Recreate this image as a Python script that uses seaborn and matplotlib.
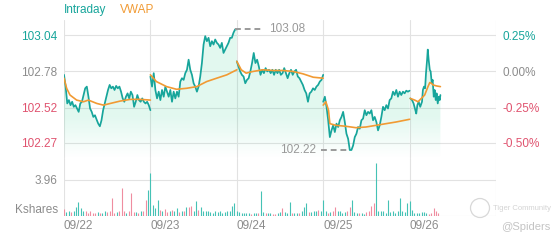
import numpy as np
import pandas as pd
import matplotlib
matplotlib.use("Agg")
import matplotlib.pyplot as plt
import seaborn as sns
from matplotlib.colors import LinearSegmentedColormap
from matplotlib.patches import Ellipse

# ---------------- data ----------------
dates = ["09/22", "09/23", "09/24", "09/25", "09/26"]
prev_close = 102.78
price_ticks = [103.04, 102.78, 102.52, 102.27]
price_tick_labels = ["103.04", "102.78", "102.52", "102.27"]
pct_labels = ["0.25%", "0.00%", "-0.25%", "-0.50%"]
vol_tick = 3.96
vol_tick_label = "3.96"
vol_unit = "Kshares"
session_minutes = 390

day1_price = [102.756, 102.672, 102.552, 102.576, 102.54, 102.564, 102.528, 102.54, 102.516, 102.492,
              102.552, 102.564, 102.612, 102.66, 102.672, 102.60, 102.516, 102.492, 102.456, 102.468,
              102.437, 102.408, 102.389, 102.432, 102.504, 102.552, 102.60, 102.648, 102.684, 102.66,
              102.672, 102.648, 102.677, 102.66, 102.672, 102.636, 102.588, 102.564, 102.60, 102.624,
              102.588, 102.636, 102.612, 102.528, 102.564, 102.612, 102.576, 102.564, 102.588, 102.564,
              102.552, 102.564, 102.54, 102.504]
day2_price = [102.744, 102.672, 102.768, 102.648, 102.588, 102.636, 102.576, 102.648, 102.60, 102.672,
              102.636, 102.60, 102.648, 102.564, 102.636, 102.588, 102.636, 102.60, 102.708, 102.732,
              102.72, 102.768, 102.792, 102.864, 102.792, 102.756, 102.696, 102.672, 102.636, 102.672,
              102.744, 102.84, 102.972, 103.032, 102.996, 103.02, 102.96, 102.996, 102.972, 103.008,
              102.984, 102.972, 102.948, 102.984, 102.912, 102.936, 102.96, 102.984, 103.02, 103.02,
              103.056, 103.08, 103.08]
day3_price = [102.852, 102.816, 102.78, 102.756, 102.744, 102.696, 102.72, 102.732, 102.78, 102.84,
              102.912, 102.84, 102.864, 102.816, 102.756, 102.792, 102.768, 102.804, 102.78, 102.792,
              102.768, 102.792, 102.756, 102.792, 102.768, 102.792, 102.756, 102.768, 102.804, 102.768,
              102.732, 102.768, 102.792, 102.756, 102.78, 102.792, 102.744, 102.732, 102.708, 102.684,
              102.648, 102.624, 102.564, 102.624, 102.636, 102.66, 102.648, 102.672, 102.684, 102.708,
              102.72, 102.756]
day4_price = [102.564, 102.60, 102.528, 102.432, 102.312, 102.36, 102.396, 102.348, 102.408, 102.384,
              102.432, 102.456, 102.492, 102.42, 102.336, 102.30, 102.22, 102.22, 102.252, 102.312,
              102.336, 102.384, 102.372, 102.432, 102.444, 102.504, 102.468, 102.492, 102.48, 102.504,
              102.432, 102.456, 102.42, 102.36, 102.396, 102.456, 102.528, 102.504, 102.54, 102.516,
              102.576, 102.588, 102.636, 102.612, 102.648, 102.60, 102.636, 102.612, 102.636, 102.624,
              102.643, 102.636, 102.643]
day5_price = [102.588, 102.576, 102.552, 102.504, 102.48, 102.54, 102.564, 102.528, 102.564, 102.648,
              102.672, 102.66, 102.768, 102.864, 102.936, 102.864, 102.792, 102.78, 102.696, 102.72,
              102.60, 102.648, 102.576, 102.624, 102.552, 102.60, 102.576, 102.612]
day5_minutes = [3, 11, 18, 26, 30, 35, 41, 48, 56, 60, 65, 70, 74, 79, 82, 86, 91, 95, 100, 104,
                109, 113, 118, 122, 127, 132, 136, 139]

day1_vwap_min = [0, 12, 27, 57, 88, 110, 148, 178, 209, 254, 299, 345, 390]
day1_vwap = [102.732, 102.66, 102.612, 102.576, 102.564, 102.576, 102.552, 102.54, 102.552, 102.569,
             102.581, 102.581, 102.576]
day2_vwap_min = [0, 27, 73, 118, 163, 209, 254, 299, 345, 390]
day2_vwap = [102.756, 102.708, 102.672, 102.653, 102.66, 102.672, 102.708, 102.732, 102.756, 102.792]
day3_vwap_min = [0, 20, 42, 73, 118, 163, 209, 254, 299, 345, 390]
day3_vwap = [102.852, 102.792, 102.768, 102.78, 102.792, 102.787, 102.787, 102.78, 102.763, 102.739,
             102.732]
day4_vwap_min = [0, 12, 24, 30, 57, 103, 148, 193, 239, 284, 330, 390]
day4_vwap = [102.54, 102.564, 102.504, 102.408, 102.396, 102.389, 102.379, 102.384, 102.396, 102.408,
             102.42, 102.439]
day5_vwap_min = [3, 23, 38, 53, 68, 83, 91, 98, 106, 121, 139]
day5_vwap = [102.588, 102.576, 102.564, 102.588, 102.612, 102.672, 102.701, 102.696, 102.684, 102.677,
             102.672]

day1_vol = [0.73, 0.4, 0.5, 0.4, 0.5, 1.0, 1.58, 0.85, 0.6, 0.5, 0.3, 0.5, 0.3, 0.35, 0.45, 0.3, 0.3,
            0.55, 0.45, 0.5, 1.94, 0.35, 0.45, 0.5, 3.05, 0.5, 0.3, 0.6, 2.57, 0.45, 0.45, 0.35, 0.5,
            0.6, 1.76, 2.86]
day2_vol = [4.77, 1.2, 0.85, 1.76, 0.65, 0.5, 0.75, 0.4, 0.5, 0.65, 0.5, 0.85, 0.45, 0.6, 0.5, 1.0,
            0.95, 1.1, 0.6, 1.68, 0.7, 1.0, 0.6, 0.55, 0.5, 0.4, 0.35, 0.55, 0.4, 0.5, 0.3, 0.4, 0.55,
            0.6, 1.1, 1.4]
day3_vol = [0.6, 0.4, 0.3, 0.35, 0.3, 0.3, 0.25, 0.35, 0.3, 0.3, 2.75, 0.45, 0.3, 0.35, 0.3, 0.25,
            0.2, 0.3, 0.45, 0.85, 0.4, 0.3, 1.5, 0.35, 0.3, 0.35, 0.3, 0.5, 0.95, 1.4, 0.45, 0.4, 0.6,
            0.5, 0.7, 0.5]
day4_vol = [1.76, 0.5, 0.35, 0.4, 0.5, 1.0, 0.6, 0.5, 0.3, 0.4, 0.5, 0.95, 1.76, 0.45, 0.3, 0.3,
            0.35, 0.25, 0.4, 0.5, 1.1, 1.4, 5.8, 0.5, 0.6, 0.55, 0.35, 1.76, 0.4, 0.5, 0.35, 0.5,
            1.94, 0.5, 0.4, 1.4]
day5_vol = [1.65, 0.7, 0.35, 0.3, 0.3, 0.4, 0.45, 0.3, 0.2, 0.3, 0.85, 0.55, 0.3]

day1_up = [0, 1, 1, 0, 1, 1, 1, 1, 1, 0, 0, 0, 0, 0, 1, 0, 1, 1, 0, 0, 0, 0, 1, 0, 0, 0, 1, 0, 0, 0,
           1, 0, 1, 0, 0, 1]
day2_up = [1, 1, 1, 1, 0, 1, 0, 0, 1, 0, 1, 1, 0, 1, 0, 1, 0, 0, 1, 1, 0, 1, 1, 1, 1, 1, 1, 1, 1, 1,
           1, 1, 1, 1, 1, 1]
day3_up = [1, 1, 1, 1, 1, 1, 0, 1, 1, 0, 1, 1, 0, 1, 1, 0, 0, 1, 1, 0, 1, 1, 1, 0, 1, 1, 0, 1, 1, 1,
           0, 1, 1, 1, 0, 1]
day4_up = [1, 1, 0, 1, 0, 0, 1, 1, 1, 1, 0, 0, 1, 1, 1, 0, 1, 1, 0, 0, 0, 0, 1, 1, 1, 1, 1, 1, 1, 1,
           1, 1, 1, 1, 1, 1]
day5_up = [1, 1, 1, 1, 1, 1, 1, 1, 0, 0, 0, 0, 0]
vol_bars_per_day = 36

# ---------------- build frames ----------------
prices = [day1_price, day2_price, day3_price, day4_price, day5_price]
vwaps = [(day1_vwap_min, day1_vwap), (day2_vwap_min, day2_vwap), (day3_vwap_min, day3_vwap),
         (day4_vwap_min, day4_vwap), (day5_vwap_min, day5_vwap)]
vols = [day1_vol, day2_vol, day3_vol, day4_vol, day5_vol]
ups = [day1_up, day2_up, day3_up, day4_up, day5_up]

rows = []
for d, p in enumerate(prices):
    if d < 4:
        mins = np.linspace(0, session_minutes, len(p))
    else:
        mins = np.array(day5_minutes, dtype=float)
    for m, v in zip(mins, p):
        rows.append({"day": d, "x": d + m / session_minutes, "price": v})
price_df = pd.DataFrame(rows)

rows = []
for d, (mins, vals) in enumerate(vwaps):
    for m, v in zip(mins, vals):
        rows.append({"day": d, "x": d + m / session_minutes, "vwap": v})
vwap_df = pd.DataFrame(rows)

rows = []
for d, (vv, uu) in enumerate(zip(vols, ups)):
    for i, (v, u) in enumerate(zip(vv, uu)):
        rows.append({"x": d + i / vol_bars_per_day, "vol": v, "up": u})
vol_df = pd.DataFrame(rows)

# ---------------- style ----------------
sns.set_style("white")
plt.rcParams["font.family"] = ["Liberation Sans", "DejaVu Sans"]
TEAL = "#17a59b"
ORANGE = "#f19a33"
PINK = "#e0536f"
GRAY = "#8c8c8c"
GRID = "#e2e2e2"
VOL_TEAL = "#45c2b5"
VOL_PINK = "#ef8da0"
FS = 8.5

fig = plt.figure(figsize=(5.6, 2.4), dpi=100)
ax = fig.add_axes([64 / 560, 1 - 158 / 240, 432 / 560, 138 / 240])
axv = fig.add_axes([64 / 560, 1 - 216 / 240, 432 / 560, 58 / 240])

ymin, ymax = 102.163, 103.147

# gradient fill under the intraday line
grad = np.linspace(0, 1, 256).reshape(-1, 1)
grad = np.clip(grad / 0.3, 0, 1)
cmap = LinearSegmentedColormap.from_list(
    "mint", [(0.25, 0.82, 0.6, 0.0), (0.25, 0.82, 0.6, 0.15)])
for d, g in price_df.groupby("day"):
    poly = ax.fill_between(g["x"], g["price"], ymin, facecolor="none", edgecolor="none")
    im = ax.imshow(grad, extent=[0, 5, ymin, ymax], origin="lower", aspect="auto",
                   cmap=cmap, vmin=0, vmax=1, zorder=1)
    im.set_clip_path(poly.get_paths()[0], transform=ax.transData)

sns.lineplot(data=price_df, x="x", y="price", units="day", estimator=None, color=TEAL,
             lw=1.25, ax=ax, zorder=3)
sns.lineplot(data=vwap_df, x="x", y="vwap", units="day", estimator=None, color=ORANGE,
             lw=1.2, ax=ax, zorder=4)

ax.set_xlim(0, 5)
ax.set_ylim(ymin, ymax)
ax.set_xlabel("")
ax.set_ylabel("")
for s in ax.spines.values():
    s.set_visible(False)
ax.set_xticks(range(6))
ax.set_xticklabels([])
ax.tick_params(axis="both", length=0)
ax.set_yticks(price_ticks)
ax.set_yticklabels(price_tick_labels, fontsize=FS)
ax.tick_params(axis="y", pad=5)
left_cols = [TEAL, GRAY, PINK, PINK]
for lbl, c in zip(ax.get_yticklabels(), left_cols):
    lbl.set_color(c)
ax.grid(True, color=GRID, lw=0.8, zorder=0)
ax.set_axisbelow(True)

ax2 = ax.twinx()
ax2.set_ylim(ymin, ymax)
ax2.set_yticks(price_ticks)
ax2.set_yticklabels(pct_labels, fontsize=FS)
ax2.tick_params(axis="y", length=0, pad=5)
for lbl, c in zip(ax2.get_yticklabels(), left_cols):
    lbl.set_color(c)
for s in ax2.spines.values():
    s.set_visible(False)

# max / min annotations
imax = price_df["price"].idxmax()
imin = price_df["price"].idxmin()
xm, pm = price_df.loc[imax, "x"], price_df.loc[imax, "price"]
xn, pn = price_df.loc[imin, "x"], price_df.loc[imin, "price"]
ax.plot([xm, xm + 0.33], [pm, pm], ls=(0, (3, 2)), color="#9a9a9a", lw=1.4, zorder=5)
ax.text(xm + 0.39, pm, f"{pm:.2f}", color="#999999", fontsize=FS, va="center", ha="left")
ax.plot([xn - 0.33, xn], [pn, pn], ls=(0, (3, 2)), color="#9a9a9a", lw=1.4, zorder=5)
ax.text(xn - 0.39, pn, f"{pn:.2f}", color="#999999", fontsize=FS, va="center", ha="right")

# legend texts
fig.text(64 / 560, 1 - 10 / 240, "Intraday", color=TEAL, fontsize=FS, va="center", ha="left")
fig.text(120 / 560, 1 - 10 / 240, "VWAP", color=ORANGE, fontsize=FS, va="center", ha="left")

# volume panel
colors = [VOL_TEAL if u else VOL_PINK for u in vol_df["up"]]
axv.vlines(vol_df["x"], 0, vol_df["vol"], colors=colors, lw=0.8)
axv.set_xlim(0, 5)
axv.set_ylim(0, vol_tick * 58 / 36)
for s in axv.spines.values():
    s.set_visible(False)
axv.set_xticks(range(6))
axv.set_xticklabels(dates + [""], fontsize=FS, color=GRAY, ha="left")
axv.tick_params(axis="both", length=0)
axv.tick_params(axis="x", pad=3)
axv.set_yticks([0, vol_tick])
axv.set_yticklabels(["", vol_tick_label], fontsize=FS, color=GRAY)
axv.tick_params(axis="y", pad=5)
axv.grid(True, color=GRID, lw=0.8, zorder=0)
axv.set_axisbelow(True)
axv.text(-0.014, 0.1, vol_unit, transform=axv.transAxes, fontsize=FS, color=GRAY,
         ha="right", va="center")

# watermark
fig.text(493 / 560, 1 - 208 / 240, "Tiger Community", color="#d4d4d4", fontsize=5.5,
         ha="left", va="center")
fig.patches.append(Ellipse((480 / 560, 1 - 208 / 240), 19 / 560, 19 / 240,
                           transform=fig.transFigure, fill=False, ec="#d8d8d8", lw=0.9))
fig.text(550 / 560, 1 - 227 / 240, "@Spiders", color="#c4c4c4", fontsize=8,
         ha="right", va="center")

fig.savefig("out.png", dpi=100)
